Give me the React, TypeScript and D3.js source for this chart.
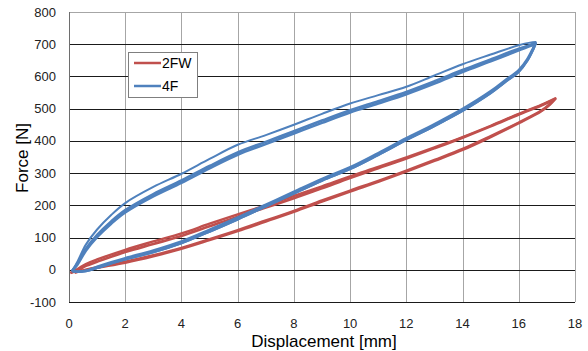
import React, { useEffect, useRef } from 'react'
import * as d3 from 'd3'

// axis ticks
const xTicks = [0, 2, 4, 6, 8, 10, 12, 14, 16, 18]
const yTicks = [-100, 0, 100, 200, 300, 400, 500, 600, 700, 800]

// 4F (blue) - loading branch, three cycles
const loadX4F = [0.1, 0.3, 0.6, 1, 1.5, 2, 3, 4, 5, 6, 7, 8, 9, 10, 11, 12, 13, 14, 15, 16, 16.4, 16.6]
const load4F_c1 = [-5, 25, 78, 125, 170, 207, 257, 298, 344, 388, 418, 450, 484, 516, 542, 568, 603, 638, 668, 697, 705, 707]
const load4F_c2 = [-5, 20, 65, 108, 150, 185, 235, 277, 322, 364, 397, 430, 463, 495, 523, 552, 585, 620, 653, 686, 698, 703]
const load4F_c3 = [-4, 16, 59, 101, 143, 178, 228, 270, 315, 357, 390, 423, 456, 488, 516, 545, 578, 614, 647, 681, 694, 701]
// 4F unloading branch
const unloadX4F = [16.6, 16.5, 16.3, 16, 15.5, 15, 14, 13, 12, 11, 10, 9, 8, 7, 6, 5, 4, 3, 2, 1.5, 1, 0.6, 0.3, 0.1]
const unload4F_c1 = [707, 688, 655, 621, 588, 555, 500, 453, 409, 363, 319, 283, 243, 203, 163, 125, 89, 61, 37, 24, 10, -2, -5, -3]
const unload4F_c2 = [703, 682, 649, 615, 582, 549, 494, 447, 403, 357, 313, 277, 237, 197, 157, 119, 83, 55, 33, 20, 6, -4, -6, -4]

// 2FW (red) - loading branch, two cycles
const loadX2FW = [0.05, 0.3, 0.6, 1, 2, 3, 4, 5, 6, 7, 8, 9, 10, 11, 12, 13, 14, 15, 16, 16.8, 17.3]
const load2FW_c1 = [-10, -2, 12, 25, 55, 80, 105, 135, 165, 193, 222, 253, 285, 315, 345, 377, 410, 445, 482, 510, 530]
const load2FW_c2 = [-10, 2, 18, 32, 62, 88, 113, 143, 172, 200, 229, 259, 290, 319, 349, 380, 412, 447, 484, 512, 532]
// 2FW unloading branch
const unloadX2FW = [17.3, 17.1, 16.8, 16, 15, 14, 13, 12, 11, 10, 9, 8, 7, 6, 5, 4, 3, 2, 1, 0.5, 0.2]
const unload2FW_c1 = [530, 512, 492, 455, 412, 372, 338, 305, 273, 243, 212, 180, 150, 120, 92, 65, 42, 22, 6, -3, -8]
const unload2FW_c2 = [532, 514, 494, 457, 415, 375, 341, 308, 276, 246, 215, 183, 153, 123, 95, 68, 45, 25, 8, -2, -9]

const RED = '#C0504D'
const BLUE = '#4F81BD'

const W = 588
const H = 351

function loop(lx: number[], lf: number[], ux: number[], uf: number[]) {
  const pts: [number, number][] = []
  lx.forEach((d, i) => pts.push([d, lf[i]]))
  ux.forEach((d, i) => pts.push([d, uf[i]]))
  return pts
}

export default function App() {
  const ref = useRef<SVGSVGElement>(null)

  useEffect(() => {
    const svg = d3.select(ref.current)
    svg.selectAll('*').remove()

    const x = d3.scaleLinear().domain([0, 18]).range([69, 575])
    const y = d3.scaleLinear().domain([-100, 800]).range([302, 12])
    const px = (v: number) => Math.round(v) + 0.5

    svg.append('rect').attr('width', W).attr('height', H).attr('fill', '#fff')

    // vertical grid
    svg.append('g')
      .selectAll('line')
      .data(xTicks.slice(1))
      .enter()
      .append('line')
      .attr('x1', d => px(x(d)))
      .attr('x2', d => px(x(d)))
      .attr('y1', y(800))
      .attr('y2', y(-100))
      .attr('stroke', '#a6a6a6')
      .attr('stroke-width', 1)

    // horizontal grid
    svg.append('g')
      .selectAll('line')
      .data(yTicks)
      .enter()
      .append('line')
      .attr('x1', x(0))
      .attr('x2', x(18))
      .attr('y1', d => px(y(d)))
      .attr('y2', d => px(y(d)))
      .attr('stroke', d => (d === 800 ? '#a6a6a6' : '#1a1a1a'))
      .attr('stroke-width', 1)

    // left axis
    svg.append('line')
      .attr('x1', px(x(0))).attr('x2', px(x(0)))
      .attr('y1', y(800)).attr('y2', y(-100))
      .attr('stroke', '#6e6e6e')

    const line = d3.line<[number, number]>()
      .x(d => x(d[0]))
      .y(d => y(d[1]))
      .curve(d3.curveCatmullRom.alpha(0.5))

    const plot = svg.append('g')
    const series = [
      { color: RED, loops: [
        { w: 2.6, pts: loop(loadX2FW, load2FW_c1, unloadX2FW, unload2FW_c1) },
        { w: 2.4, pts: loop(loadX2FW, load2FW_c2, unloadX2FW, unload2FW_c2) },
      ] },
      { color: BLUE, loops: [
        { w: 2, pts: loop(loadX4F, load4F_c1, unloadX4F, unload4F_c1) },
        { w: 2.6, pts: loop(loadX4F, load4F_c2, unloadX4F, unload4F_c2) },
        { w: 2.6, pts: loop(loadX4F, load4F_c3, unloadX4F, unload4F_c2) },
      ] },
    ]
    series.forEach(s => {
      s.loops.forEach(l => {
        plot.append('path')
          .attr('d', line(l.pts))
          .attr('fill', 'none')
          .attr('stroke', s.color)
          .attr('stroke-width', l.w)
          .attr('stroke-linejoin', 'round')
      })
    })

    // tick labels
    svg.append('g')
      .selectAll('text')
      .data(yTicks)
      .enter()
      .append('text')
      .attr('x', 56)
      .attr('y', d => y(d))
      .attr('dy', '0.35em')
      .attr('text-anchor', 'end')
      .attr('font-family', 'Arial, "Liberation Sans", sans-serif')
      .attr('font-size', 13)
      .attr('fill', '#222')
      .text(d => d)

    svg.append('g')
      .selectAll('text')
      .data(xTicks)
      .enter()
      .append('text')
      .attr('x', d => x(d))
      .attr('y', 328)
      .attr('text-anchor', 'middle')
      .attr('font-family', 'Arial, "Liberation Sans", sans-serif')
      .attr('font-size', 13)
      .attr('fill', '#222')
      .text(d => d)

    // axis titles
    svg.append('text')
      .attr('x', 324)
      .attr('y', 347)
      .attr('text-anchor', 'middle')
      .attr('font-family', 'Arial, "Liberation Sans", sans-serif')
      .attr('font-size', 17)
      .attr('fill', '#000')
      .text('Displacement [mm]')

    svg.append('text')
      .attr('transform', 'translate(28,158) rotate(-90)')
      .attr('text-anchor', 'middle')
      .attr('font-family', 'Arial, "Liberation Sans", sans-serif')
      .attr('font-size', 17)
      .attr('fill', '#000')
      .text('Force [N]')

    // legend
    const lg = svg.append('g')
    lg.append('rect')
      .attr('x', 128.5).attr('y', 52.5)
      .attr('width', 69).attr('height', 45)
      .attr('fill', '#fff')
      .attr('stroke', '#7f7f7f')
    const items = [{ name: '2FW', color: RED }, { name: '4F', color: BLUE }]
    items.forEach((it, i) => {
      const yy = 63 + i * 23
      lg.append('line')
        .attr('x1', 134).attr('x2', 161)
        .attr('y1', yy).attr('y2', yy)
        .attr('stroke', it.color)
        .attr('stroke-width', 2.5)
      lg.append('text')
        .attr('x', 162)
        .attr('y', yy + 5)
        .attr('font-family', 'Arial, "Liberation Sans", sans-serif')
        .attr('font-size', 14)
        .attr('fill', '#000')
        .text(it.name)
    })
  }, [])

  return (
    <svg ref={ref} width={W} height={H} style={{ position: 'absolute', left: 0, top: 0 }} />
  )
}
